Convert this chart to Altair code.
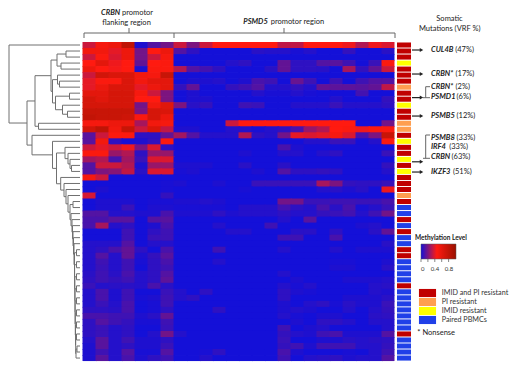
import altair as alt
import pandas as pd

# Methylation values, one list per sample, 7 CRBN flanking columns then 17 PSMD5 columns
CRBN_VALUES = [
 [.35,.50,.55,.80,.02,.12,.18],[.52,.52,.40,.55,.18,.45,.55],[.35,.47,.38,.55,.18,.35,.50],
 [.45,.60,.42,.45,.15,.45,.47],[.55,.45,.43,.45,.02,.47,.47],[.35,.70,.65,.65,.52,.50,.75],
 [.40,.47,.47,.65,.52,.60,.60],[.40,.55,.65,.65,.40,.55,.60],[.60,.60,.68,.68,.50,.35,.20],
 [.68,.62,.68,.68,.45,.45,.20],[.68,.68,.68,.68,.18,.52,.62],[.75,.75,.75,.75,.20,.68,.65],
 [.78,.75,.75,.72,.48,.68,.55],[.50,.50,.55,.55,.28,.52,.50],[.70,.80,.52,.75,.35,.65,.33],
 [.13,.35,.47,.47,.05,.05,.15],[.13,.52,.05,.01,.02,.06,.47],[.35,.40,.35,.42,.20,.38,.05],
 [.47,.47,.25,.30,.05,.25,.25],[.27,.30,.10,.27,.07,.38,.38],[.12,.35,.35,.30,.02,.25,.25],
 [.12,.20,.22,.33,.04,.38,.38],[.50,.35,0,0,0,0,0],[0,0,0,0,0,0,.01],
 [0,.02,0,0,0,0,.01],[.37,0,0,0,0,0,.06],[0,.02,.02,.02,0,.01,.01],
 [0,.02,.02,.07,0,.02,.02],[.12,.12,.03,.03,.02,.02,.10],[.10,.10,.13,.13,0,.12,.13],
 [.10,.28,.03,.05,0,.02,.10],[0,0,0,.08,0,.05,.08],[0,0,0,.08,0,.07,.08],
 [.03,.03,.03,.12,0,.03,.03],[.03,.05,.10,.15,.05,0,.10],[.03,.12,.03,.15,.02,.06,.13],
 [.03,.08,.03,.08,.01,.05,.10],[.03,.07,.03,.08,0,.05,.08],[.04,.08,.04,.10,.03,.05,.12],
 [.05,.08,.06,.08,.03,.05,.14],[.07,.03,.04,.04,.03,.10,.04],[.03,.10,.02,.08,0,0,.07],
 [.03,.10,.02,.08,.01,.02,.08],[.03,.07,.03,.10,0,.01,.08],[.05,.05,.04,.10,0,.01,.05],
 [.10,.10,.08,.08,.02,.04,.15],[.05,.12,.08,.06,.01,.01,.08],[.05,.07,.03,.05,0,0,.07],
 [.05,.07,.03,.05,0,.03,.18],[.03,.13,.03,.08,.02,.02,.05],[.02,.13,.03,.05,.02,.02,.07],
 [.02,.08,.03,.12,.01,.01,.12],[.02,.13,.03,.10,.02,.05,.08],
]
PSMD5_VALUES = [
 [.35,.20,.35,.45,.45,.45,.45,.45,.33,.33,.45,.45,.45,.42,.30,.42,.38],
 [.12,.05,0,0,0,0,.04,.03,.03,.01,.03,0,0,.06,0,0,.04],
 [0,0,0,0,0,0,0,0,0,0,0,0,0,0,0,0,0],
 [0,0,0,0,.03,.05,0,0,.15,.05,.05,.12,.13,.08,0,.07,.47],
 [.30,.12,.09,.05,0,0,0,.04,.15,.05,.05,.04,0,.28,.06,.15,.35],
 [0,0,0,0,0,0,0,0,0,0,0,0,0,0,0,0,0],
 [0,.02,.02,.03,0,.02,.10,.08,0,.16,.08,0,.08,0,.08,.12,.12],
 [.06,.15,0,0,.06,.08,.12,.03,.03,.06,.03,.15,.14,.14,.13,.15,.33],
 [0,.02,0,0,0,0,.03,.01,.01,.03,.01,0,0,0,.09,0,0],
 [0,.02,.02,0,0,0,0,0,0,0,0,0,.03,0,0,0,.06],
 [.20,.04,.06,0,0,.08,.07,0,0,.03,.03,.03,.07,.03,.03,.03,.05],
 [0,0,0,0,0,0,0,0,0,0,0,0,0,0,0,0,0],
 [0,0,0,0,0,0,0,0,0,0,0,0,0,0,0,0,0],
 [0,0,0,0,.35,.45,.45,.45,.45,.45,.45,.45,.45,.45,0,0,.18],
 [.02,.02,0,0,.03,.03,.01,.03,.05,.10,.25,.30,.45,.47,.42,.47,.47],
 [.27,.12,.03,.03,.03,.30,.05,.03,.18,.40,.38,.40,.50,.38,.10,.20,.75],
 [0,0,0,0,0,0,0,0,0,0,.03,.03,.07,.07,0,.03,.47],
 [0,0,0,0,0,0,0,0,.10,.02,0,0,0,0,0,0,0],
 [0,0,0,0,0,.02,0,0,.03,.03,0,.03,.05,0,0,0,.07],
 [0,0,0,0,0,0,0,0,0,0,0,0,0,0,0,0,0],
 [.02,.02,.02,0,0,.04,0,0,.04,0,0,0,0,0,0,0,.06],
 [.01,.02,0,0,0,0,.02,0,.12,.05,.05,.06,.05,0,0,0,.03],
 [0,0,0,0,0,0,0,0,0,0,0,0,0,0,0,0,0],
 [.02,0,0,.02,0,0,.07,.07,.07,.07,.07,.28,.20,.06,.05,.05,.07],
 [0,0,0,0,0,.01,0,0,0,0,0,.03,.04,.02,.04,0,.42],
 [0,0,0,0,0,0,0,0,0,0,0,0,0,0,0,0,0],
 [.02,.02,.03,.02,0,0,0,0,.18,.18,.07,.07,.08,.08,.07,.07,.10],
 [.01,.01,.01,.01,0,.03,.03,.03,.09,.05,.03,.10,.04,.10,.01,.03,.07],
 [.02,.02,.02,.05,.02,.03,.03,.03,.05,.03,.03,.06,.07,.09,.03,.08,.18],
 [0,0,0,0,0,0,0,0,.03,0,.13,0,0,0,0,0,0],
 [0,0,0,.03,0,0,0,.08,0,0,0,0,0,0,.02,.03,0],
 [0,0,0,0,.03,.03,0,0,0,.04,.04,0,.05,0,0,.04,.15],
 [0,0,0,0,0,0,0,0,.08,.08,0,0,.10,0,0,0,0],
 [0,0,0,0,0,0,0,0,0,0,0,0,0,0,0,0,.04],
 [0,0,0,.08,0,0,0,0,.03,0,0,0,.03,0,.02,.02,.02],
 [0,0,0,0,0,0,0,0,0,0,0,0,0,0,0,0,0],
 [0,0,0,.03,0,0,0,0,0,0,0,0,.01,.01,0,0,.02],
 [0,0,0,0,0,0,0,0,0,0,0,0,.02,.02,0,0,.04],
 [0,0,0,0,0,0,0,0,.03,0,0,0,0,0,0,0,0],
 [0,0,0,0,0,0,0,0,0,.02,0,0,0,.02,.02,.02,.03],
 [0,0,0,0,0,0,0,0,.03,.01,.03,0,0,0,0,.03,.04],
 [.03,0,.05,0,0,0,0,0,.05,.02,.01,0,0,0,0,.03,.02],
 [.03,.05,0,0,0,0,0,0,.05,0,0,0,0,.02,.02,.02,.04],
 [0,0,0,0,0,0,0,0,.02,0,.03,.05,.01,.04,.02,.02,.07],
 [0,0,0,.05,0,0,0,0,.02,.03,.02,0,0,.03,0,.03,.06],
 [0,0,0,0,0,0,0,0,.03,.01,0,.02,.02,0,0,.04,.05],
 [0,0,0,0,0,0,0,0,0,.02,0,.05,.05,.03,0,.03,.03],
 [0,0,0,0,0,0,0,0,.08,0,.02,.03,0,0,0,0,.03],
 [.03,0,0,0,0,0,0,0,.06,.03,.02,.08,.10,.02,.02,.02,.12],
 [0,0,0,0,0,0,0,0,.07,0,0,.02,.02,.04,.03,.04,.05],
 [0,0,0,0,0,0,0,0,.06,.08,.02,.08,.08,.08,.03,.03,.06],
 [0,0,.01,.05,0,0,0,0,.10,.02,0,0,0,.01,0,.03,.08],
 [0,0,.03,0,0,0,0,0,.08,0,.03,.04,.05,.02,.03,.03,.12],
]
COLOR_STOPS = [0, 0.45, 1]
COLOR_RANGE = ["#1410d8", "#ff1a10", "#9a1000"]
LEGEND_VALUES = [0, 0.4, 0.8]

GROUPS = ["IMID and PI resistant", "PI resistant", "IMID resistant", "Paired PBMCs"]
GROUP_COLORS = ["#c00000", "#ff9f50", "#ffff00", "#2040e8"]
# group index per sample
SAMPLE_GROUP = [0,0,0,2,0,0,0,1,0,0,2,0,0,1,1,0,2,0,0,2,0,2,0,0,0,1,0,3,3,0,3,0,3,3,
                0,0,3,3,3,3,0,3,3,3,3,3,3,3,0,3,3,3,3]

# cluster tree: [merge distance, child, child]; an integer is a sample row
TAIL = [8, [6, 34, 35], [7.9, [6, 36, 37], [7.7, [6, 38, 39], [7.5, [6, 40, 41],
        [7.4, [6, 42, 43], [7.2, [6, 44, 45], [7, [6, 46, 47], [6.8, [6, 48, 49],
        [6.5, [5.5, 50, 51], 52]]]]]]]]]
COMB = [21.8, 22, [18.5, 23, [16.5, 24, [14.5, 25, [12.5, [9.5, 26, 27], [11.5, 28,
        [10.5, 29, [10, 30, [9.5, 31, [9, 32, [8.5, 33, TAIL]]]]]]]]]]]
TOP_A = [47.5, [31.5, [25.5, [16.5, 1, 2], [21.5, 3, 4]],
                [30, [25, 5, [23, 6, 7]], [27, [13, 8, 9], [20, 10, [15, 11, 12]]]]],
         [44, 13, 14]]
TOP_B = [50.5, 15, [30, 16, [26, [17.5, 17, [14.5, 18, [12.5, 19, [11, 20, 21]]]], COMB]]]
TREE = [73.5, 0, [55.5, TOP_A, TOP_B]]
LEAF_DISTANCE = 2.5

# gene labels: name, percentage, row position, percentage column position
GENES = ["CUL4B", "CRBN*", "CRBN*", "PSMD1", "PSMB5", "PSMB8", "IRF4", "CRBN", "IKZF3"]
GENE_PCT = ["(47%)", "(17%)", "(2%)", "(6%)", "(12%)", "(33%)", "(33%)", "(63%)", "(51%)"]
GENE_ROW = [0.83, 4.82, 6.96, 8.58, 11.8, 15.4, 17.0, 18.67, 21.1]
GENE_PCT_X = [455.2, 455.6, 455.6, 456.6, 456.6, 456.6, 449.2, 451.6, 453.0]
ARROW_ROW = [0.83, 4.82, 8.74, 11.8, 19.4, 21.1]

PX0, COLW, PY0, ROWH = 82.5, 13.0, 42.0, 6.02
W, H = 504, 360
def cx(px): return (px - PX0) / COLW
def ry(py): return (py - PY0) / ROWH
X = alt.Scale(domain=[cx(8), cx(8 + W)], nice=False, zero=False)
Y = alt.Scale(domain=[ry(8 + H), ry(8)], nice=False, zero=False)
xq = lambda f: alt.X(f, type="quantitative", scale=X, axis=None)
yq = lambda f: alt.Y(f, type="quantitative", scale=Y, axis=None)

TXT = "#222222"
FONT = "Lato"
N_COLS, N_ROWS = 24, len(CRBN_VALUES)
OVERLAP = 0.12  # cells overlap the next one a little so no seam shows between them

# heat cells
cells = []
for r, (a, b) in enumerate(zip(CRBN_VALUES, PSMD5_VALUES)):
    for c, v in enumerate(a + b):
        cells.append({"c": c, "c2": min(c + 1 + OVERLAP, N_COLS), "r": r,
                      "r2": min(r + 1 + OVERLAP, N_ROWS), "v": v})
heat = alt.Chart(pd.DataFrame(cells)).mark_rect(strokeWidth=0).encode(
    x=xq("c"), x2="c2", y=yq("r"), y2="r2",
    color=alt.Color("v:Q",
        scale=alt.Scale(domain=COLOR_STOPS, range=COLOR_RANGE, interpolate="rgb"),
        legend=alt.Legend(orient="none", legendX=413, legendY=236, direction="horizontal",
                          title=None, gradientLength=35, gradientThickness=15,
                          values=LEGEND_VALUES, labelFont=FONT, labelFontSize=6,
                          labelColor="#333333", labelAlign="center", labelOffset=7,
                          gradientStrokeColor="#555555", gradientStrokeWidth=0.5,
                          format=".1~f")),
)

# side annotation
ann = pd.DataFrame([{"x": cx(397), "x2": cx(411), "r": r + 0.08, "r2": r + 0.92, "g": GROUPS[g]}
                    for r, g in enumerate(SAMPLE_GROUP)])
side = alt.Chart(ann).mark_rect(strokeWidth=0).encode(
    x=xq("x"), x2="x2", y=yq("r"), y2="r2",
    color=alt.Color("g:N", scale=alt.Scale(domain=GROUPS, range=GROUP_COLORS),
        legend=alt.Legend(orient="none", legendX=415, legendY=280.5, title=None,
                          symbolType="M-1.9,-0.9H1.9V0.9H-1.9Z", symbolSize=81,
                          symbolStrokeWidth=0, rowPadding=0, labelOffset=9.7,
                          labelFont=FONT, labelFontSize=7.2, labelColor="#333333")),
)

# dendrogram
segs = []
def walk(node):
    if isinstance(node, int):
        return LEAF_DISTANCE, node + 0.5
    d, *kids = node
    pos = [walk(k) for k in kids]
    for kd, ky in pos:
        segs.append({"x": -d / COLW, "x2": -kd / COLW, "y": ky, "y2": ky})
    ys = [p[1] for p in pos]
    segs.append({"x": -d / COLW, "x2": -d / COLW, "y": min(ys), "y2": max(ys)})
    return d, (min(ys) + max(ys)) / 2
walk(TREE)
dendro = alt.Chart(pd.DataFrame(segs)).mark_rule(color="#707070", strokeWidth=1).encode(
    x=xq("x"), x2="x2", y=yq("y"), y2="y2")

# region brackets, connectors
def seg(x1, y1, x2, y2): return {"x": cx(x1), "x2": cx(x2), "y": ry(y1), "y2": ry(y2)}
bracket = pd.DataFrame([
    seg(84, 33, 395, 33), seg(84, 33, 84, 38), seg(174, 33, 174, 38), seg(395, 33, 395, 38),
    seg(129, 28, 129, 33), seg(284, 28, 284, 33),
    seg(425.7, 86.7, 425.7, 97.7), seg(425.7, 86.7, 430, 86.7), seg(423, 97.7, 430, 97.7),
    seg(425.7, 135, 425.7, 158.3), seg(425.7, 135, 430, 135), seg(423, 158.3, 430, 158.3),
])
brk = alt.Chart(bracket).mark_rule(color="#666666", strokeWidth=1).encode(
    x=xq("x"), x2="x2", y=yq("y"), y2="y2")

arrows = pd.DataFrame([{"x": cx(412), "x2": cx(421), "r": r + 0.5, "t": cx(421.5)} for r in ARROW_ROW])
arr_line = alt.Chart(arrows).mark_rule(color="#222222", strokeWidth=1.2).encode(
    x=xq("x"), x2="x2", y=yq("r"))
arr_head = alt.Chart(arrows).mark_point(shape="triangle-right", filled=True, size=16,
                                        color="#222222", opacity=1).encode(x=xq("t"), y=yq("r"))

# gene labels
genes = pd.DataFrame({"g": GENES, "p": GENE_PCT, "r": [r + 0.5 for r in GENE_ROW],
                      "gx": [cx(431)] * len(GENES), "px": [cx(v) for v in GENE_PCT_X]})
gene_txt = alt.Chart(genes).mark_text(align="left", baseline="middle", font=FONT, fontSize=7.5,
                                      fontWeight="bold", fontStyle="italic", color=TXT).encode(
    x=xq("gx"), y=yq("r"), text="g:N")
pct_txt = alt.Chart(genes).mark_text(align="left", baseline="middle", font=FONT, fontSize=7.5,
                                     color=TXT).encode(x=xq("px"), y=yq("r"), text="p:N")

# headings
def lab(t, x, y, **kw):
    d = pd.DataFrame({"t": [t], "x": [cx(x)], "y": [ry(y)]})
    o = dict(align="left", baseline="middle", font=FONT, fontSize=7.5, color=TXT)
    o.update(kw)
    return alt.Chart(d).mark_text(**o).encode(x=xq("x"), y=yq("y"), text="t:N")

heads = [
    lab("CRBN", 101, 12.7, fontStyle="italic", fontWeight="bold"),
    lab("promotor", 122, 12.7),
    lab("flanking region", 126.5, 22.7, align="center"),
    lab("PSMD5", 243.3, 21.7, fontStyle="italic", fontWeight="bold"),
    lab("promotor region", 270.7, 21.7),
    lab("Somatic", 449.5, 19, align="center"),
    lab("Mutations (VRF %)", 449.7, 29, align="center"),
    lab("Methylation Level", 415, 237.7, fontWeight="bold", fontSize=6.5),
    lab("* Nonsense", 417.3, 333),
]

ticks = pd.DataFrame([{"x": cx(421 + 34.5 * v), "y": ry(259), "y2": ry(262)} for v in [0, .2, .4, .6, .8]])
leg_ticks = alt.Chart(ticks).mark_rule(color="#555555", strokeWidth=0.7).encode(
    x=xq("x"), y=yq("y"), y2="y2")

chart = alt.layer(heat, side, dendro, brk, arr_line, arr_head, gene_txt, pct_txt, leg_ticks, *heads
    ).resolve_scale(color="independent").properties(
    width=W, height=H, padding=0, autosize=alt.AutoSizeParams(type="none"),
    background="white"
).configure_view(stroke=None)

chart.save("out.html", embed_options={"renderer": "svg", "actions": False})
